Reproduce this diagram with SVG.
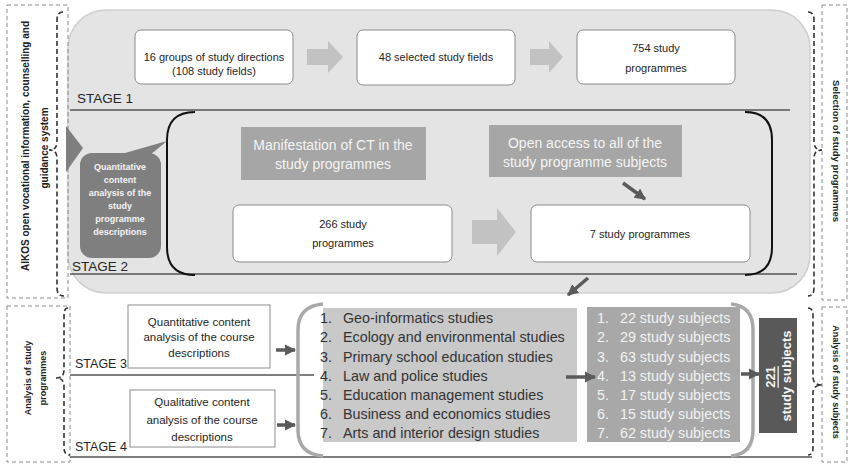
<svg xmlns="http://www.w3.org/2000/svg" width="849" height="467" viewBox="0 0 849 467">
<defs>
<marker id="ah" viewBox="0 0 10 10" refX="9" refY="5" markerWidth="3.2" markerHeight="3.2" orient="auto" markerUnits="strokeWidth">
<path d="M0,0 L10,5 L0,10 Z" fill="#5a5a5a"/>
</marker>
<style>
.t{font-family:"Liberation Sans",Arial,sans-serif;fill:#262626}
.wb{fill:#ffffff;stroke:#8c8c8c;stroke-width:1}
.dbox{fill:none;stroke:#8a8a8a;stroke-width:1;stroke-dasharray:4,3}
.brace{fill:none;stroke:#333;stroke-width:1.6;stroke-dasharray:5,3}
.div{stroke:#555;stroke-width:1.5}
.blk{fill:#c2c2c2}
.dk{stroke:#5a5a5a;stroke-width:3.5;fill:none;marker-end:url(#ah)}
.gbox{fill:#a6a6a6}
.wt{font-family:"Liberation Sans",Arial,sans-serif;fill:#f4f4f4}
.lst{font-family:"Liberation Sans",Arial,sans-serif;font-size:14.3px;fill:#333}
.rl{font-family:"Liberation Sans",Arial,sans-serif;font-size:14.3px;fill:#f2f2f2}
.vt{font-family:"Liberation Sans",Arial,sans-serif;font-weight:bold;fill:#222}
</style>
</defs>
<rect width="849" height="467" fill="#ffffff"/>

<!-- main panel -->
<g id="panel">
<rect x="68" y="10" width="742" height="283" rx="38" ry="38" fill="#e4e4e4" stroke="#cfcfcf" stroke-width="1.5"/>
<line x1="70" y1="110" x2="790" y2="110" class="div"/>
<line x1="70" y1="274" x2="797" y2="274" class="div"/>
<path d="M195,112 Q167,112 167,140 L167,247 Q167,275 195,275" fill="none" stroke="#111" stroke-width="2"/>
<path d="M745,112 Q772,112 772,140 L772,247 Q772,275 745,275" fill="none" stroke="#111" stroke-width="2"/>
<text class="t" x="77" y="103" font-size="13.5">STAGE 1</text>
<text class="t" x="72" y="271" font-size="13.5">STAGE 2</text>
</g>

<!-- bottom section lines -->
<g id="bottom-lines">
<line x1="70" y1="375" x2="314" y2="375" class="div" stroke-width="1.2"/>
<line x1="70" y1="457" x2="812" y2="457" class="div" stroke-width="1.2"/>
<text class="t" x="75" y="368" font-size="12.5">STAGE 3</text>
<text class="t" x="75" y="451" font-size="12.5">STAGE 4</text>
</g>

<!-- side labels -->
<g id="aikos">
<rect x="7" y="5" width="61" height="293" class="dbox"/>
<path d="M63,12 Q57,12 57,20 L57,142 Q57,150 49,150 Q57,150 57,158 L57,288 Q57,296 64,296" class="brace"/>
<text class="vt" font-size="10" text-anchor="middle" dominant-baseline="central" transform="translate(25,146) rotate(-90)">AIKOS open vocational information, counselling and</text>
<text class="vt" font-size="10" text-anchor="middle" dominant-baseline="central" transform="translate(44,148) rotate(-90)">guidance system</text>
</g>
<g id="selection">
<rect x="822" y="5" width="25" height="295" class="dbox"/>
<path d="M808,12 Q814,12 814,20 L814,142 Q814,150 822,150 Q814,150 814,158 L814,288 Q814,296 808,296" class="brace"/>
<text class="vt" font-size="9.5" text-anchor="middle" dominant-baseline="central" transform="translate(836,151) rotate(90)">Selection of study programmes</text>
</g>
<g id="analysis-programmes">
<rect x="7" y="306" width="63" height="156" class="dbox"/>
<path d="M68,308 Q64,308 64,315 L64,370 Q64,378 56,378 Q64,378 64,386 L64,448 Q64,455 70,455" class="brace"/>
<text class="vt" font-size="9" text-anchor="middle" dominant-baseline="central" transform="translate(28,378) rotate(-90)">Analysis of study</text>
<text class="vt" font-size="9" text-anchor="middle" dominant-baseline="central" transform="translate(43,378) rotate(-90)">programmes</text>
</g>
<g id="analysis-subjects">
<rect x="822" y="307" width="25" height="155" class="dbox"/>
<path d="M808,308 Q813,308 813,315 L813,377 Q813,385 822,385 Q813,385 813,393 L813,448 Q813,455 808,455" class="brace"/>
<text class="vt" font-size="9" text-anchor="middle" dominant-baseline="central" transform="translate(836,382) rotate(90)">Analysis of study subjects</text>
</g>

<!-- stage 1 nodes -->
<g id="n-groups">
<rect x="135" y="30" width="158" height="54" rx="6" class="wb"/>
<text class="t" x="214" y="61" font-size="11" text-anchor="middle">16 groups of study directions</text>
<text class="t" x="214" y="75" font-size="11" text-anchor="middle">(108 study fields)</text>
</g>
<g id="n-fields">
<rect x="357" y="30" width="158" height="55" rx="6" class="wb"/>
<text class="t" x="436" y="61" font-size="11" text-anchor="middle">48 selected study fields</text>
</g>
<g id="n-754">
<rect x="577" y="30" width="158" height="54" rx="6" class="wb"/>
<text class="t" x="656" y="52" font-size="11" text-anchor="middle">754 study</text>
<text class="t" x="656" y="72" font-size="11" text-anchor="middle">programmes</text>
</g>

<!-- stage 2 nodes -->
<g id="n-manifest">
<rect x="241" y="127" width="185" height="53" class="gbox"/>
<text class="wt" x="333" y="150" font-size="14" text-anchor="middle">Manifestation of CT in the</text>
<text class="wt" x="333" y="169" font-size="14" text-anchor="middle">study programmes</text>
</g>
<g id="n-open">
<rect x="489" y="125" width="193" height="52" class="gbox"/>
<text class="wt" x="585" y="148" font-size="14" text-anchor="middle">Open access to all of the</text>
<text class="wt" x="585" y="167" font-size="14" text-anchor="middle">study programme subjects</text>
</g>
<g id="n-266">
<rect x="233" y="205" width="219" height="57" rx="6" class="wb"/>
<text class="t" x="343" y="228" font-size="11" text-anchor="middle">266 study</text>
<text class="t" x="343" y="247" font-size="11" text-anchor="middle">programmes</text>
</g>
<g id="n-7">
<rect x="531" y="205" width="219" height="57" rx="6" class="wb"/>
<text class="t" x="640" y="238" font-size="11" text-anchor="middle">7 study programmes</text>
</g>
<g id="n-quant-prog">
<polygon points="66,126 83,148 66,172" fill="#7f7f7f"/>
<rect x="80" y="153" width="81" height="105" rx="12" fill="#7f7f7f"/>
<polygon points="118,155 150,155 167,141" fill="#7f7f7f"/>
<g class="wt" font-size="9" font-weight="bold" text-anchor="middle">
<text x="120" y="170">Quantitative</text>
<text x="120" y="183">content</text>
<text x="120" y="196">analysis of the</text>
<text x="120" y="209">study</text>
<text x="120" y="222">programme</text>
<text x="120" y="235">descriptions</text>
</g>
</g>

<!-- stage 3/4 nodes -->
<g id="n-quant-course">
<rect x="128" y="305" width="142" height="63" class="wb" stroke="#bbb"/>
<text class="t" x="199" y="326" font-size="11.5" text-anchor="middle">Quantitative content</text>
<text class="t" x="199" y="341" font-size="11.5" text-anchor="middle">analysis of the course</text>
<text class="t" x="199" y="357" font-size="11.5" text-anchor="middle">descriptions</text>
</g>
<g id="n-qual-course">
<rect x="130" y="390" width="145" height="57" class="wb" stroke="#bbb"/>
<text class="t" x="202" y="406" font-size="11.5" text-anchor="middle">Qualitative content</text>
<text class="t" x="202" y="424" font-size="11.5" text-anchor="middle">analysis of the course</text>
<text class="t" x="202" y="441" font-size="11.5" text-anchor="middle">descriptions</text>
</g>
<g id="n-list">
<rect x="323" y="308" width="254" height="134" fill="#c9c9c9"/>
<path d="M323,304 Q298,306 298,330 L298,430 Q298,454 323,456" fill="none" stroke="#a8a8a8" stroke-width="3.5"/>
<g class="lst">
<text x="320" y="323">1.</text><text x="343" y="323">Geo-informatics studies</text>
<text x="320" y="342">2.</text><text x="343" y="342">Ecology and environmental studies</text>
<text x="320" y="362">3.</text><text x="343" y="362">Primary school education studies</text>
<text x="320" y="381">4.</text><text x="343" y="381">Law and police studies</text>
<text x="320" y="400">5.</text><text x="343" y="400">Education management studies</text>
<text x="320" y="419">6.</text><text x="343" y="419">Business and economics studies</text>
<text x="320" y="438">7.</text><text x="343" y="438">Arts and interior design studies</text>
</g>
</g>
<g id="n-subjects">
<rect x="587" y="307" width="153" height="135" fill="#a8a8a8"/>
<path d="M731,304 Q753,306 753,330 L753,430 Q753,454 731,456" fill="none" stroke="#a8a8a8" stroke-width="3.5"/>
<g class="rl">
<text x="597" y="323">1.</text><text x="620" y="323">22 study subjects</text>
<text x="597" y="342">2.</text><text x="620" y="342">29 study subjects</text>
<text x="597" y="362">3.</text><text x="620" y="362">63 study subjects</text>
<text x="597" y="381">4.</text><text x="620" y="381">13 study subjects</text>
<text x="597" y="400">5.</text><text x="620" y="400">17 study subjects</text>
<text x="597" y="419">6.</text><text x="620" y="419">15 study subjects</text>
<text x="597" y="438">7.</text><text x="620" y="438">62 study subjects</text>
</g>
</g>
<g id="n-221">
<rect x="759" y="318" width="38" height="115" fill="#595959"/>
<text class="wt" font-size="13" font-weight="bold" text-anchor="middle" dominant-baseline="central" text-decoration="underline" transform="translate(770,377) rotate(-90)">221</text>
<text class="wt" font-size="13" font-weight="bold" text-anchor="middle" dominant-baseline="central" transform="translate(786,376) rotate(-90)">study subjects</text>
</g>

<!-- connectors -->
<g id="connectors">
<polygon class="blk" points="307,49 328,49 328,41 343,57 328,73 328,65 307,65"/>
<polygon class="blk" points="530,49 549,49 549,41 563,57 549,73 549,65 530,65"/>
<polygon class="blk" points="472,220 497,220 497,208 516,232 497,256 497,244 472,244"/>
<line x1="623" y1="183" x2="645" y2="199" class="dk"/>
<line x1="588" y1="278" x2="568" y2="295" class="dk"/>
<line x1="276" y1="350" x2="295" y2="350" class="dk"/>
<line x1="277" y1="425" x2="295" y2="425" class="dk"/>
<line x1="566" y1="377" x2="595" y2="377" class="dk"/>
<line x1="741" y1="374" x2="759" y2="374" class="dk"/>
</g>
</svg>
